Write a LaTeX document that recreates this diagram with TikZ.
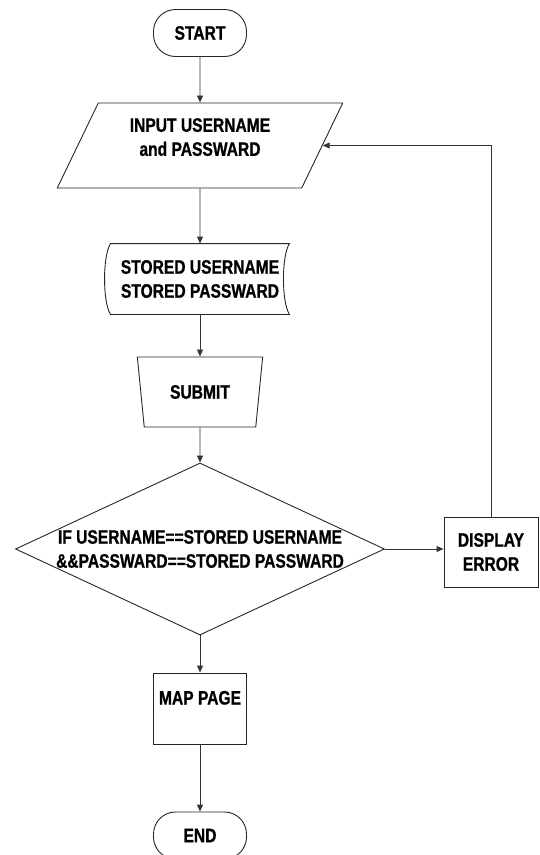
\documentclass[tikz,border=0pt]{standalone}
\usepackage{fontspec}
\setmainfont{Liberation Sans}[FakeStretch=0.8, FakeBold=0.8]
\usetikzlibrary{shapes.geometric,arrows.meta}

\begin{document}
\begin{tikzpicture}[x=1pt, y=-1pt,
  font=\fontsize{19.5}{24}\selectfont\bfseries,
  line width=0.9pt,
  term/.style={draw=black!85, rounded corners=22pt, minimum width=93pt, minimum height=47pt, inner sep=0pt},
  io/.style={draw=black!85, trapezium, trapezium left angle=62.6, trapezium right angle=117.4, trapezium stretches=true, minimum width=286pt, minimum height=85pt, align=center, inner sep=0pt, text depth=17pt},
  sd/.style={minimum width=178pt, minimum height=70pt, align=center, inner sep=0pt},
  man/.style={draw=black!85, trapezium, trapezium left angle=105, trapezium right angle=105, trapezium stretches=true, minimum width=126pt, minimum height=70pt, inner sep=0pt},
  dec/.style={draw=black!85, diamond, shape aspect=2.15, minimum width=369pt, minimum height=172pt, inner sep=-4pt, align=center},
  proc/.style={draw=black!85, minimum width=94pt, minimum height=70pt, align=center, inner sep=0pt},
  arr/.style={draw=black!80, -{Triangle[length=7pt,width=6pt]}}
]
  \useasboundingbox (0,0) rectangle (540,855);
  \node[term] (start) at (200,33) {START};
  \node[io] (inp) at (200,145.5) {INPUT USERNAME\\and PASSWARD};
  \node[sd] (stored) at (200,279) {STORED USERNAME\\STORED PASSWARD};
  \draw[black!85] (stored.north west) .. controls +(-8,12) and +(-8,-12) .. (stored.south west)
    -- (stored.south east) .. controls +(-8,-12) and +(-8,12) .. (stored.north east) -- cycle;
  \node[man] (submit) at (200,392) {SUBMIT};
  \node[dec] (check) at (200,549) {IF USERNAME==STORED USERNAME\\\&\&PASSWARD==STORED PASSWARD};
  \node[proc] (err) at (491,552) {DISPLAY\\ERROR};
  \node[proc, minimum width=93pt, minimum height=71pt, text height=14pt, text depth=22pt] (map) at (200,708.5) {MAP PAGE};
  \node[term] (stop) at (200,835.5) {END};

  \draw[arr] (start) -- (inp);
  \draw[arr] (inp) -- (stored);
  \draw[arr] (stored) -- (submit);
  \draw[arr] (submit) -- (check);
  \draw[arr] (check.east) -- (check.east -| err.west);
  \draw[arr] (err.north) |- (inp.east);
  \draw[arr] (check) -- (map);
  \draw[arr] (map) -- (stop);
\end{tikzpicture}
\end{document}
